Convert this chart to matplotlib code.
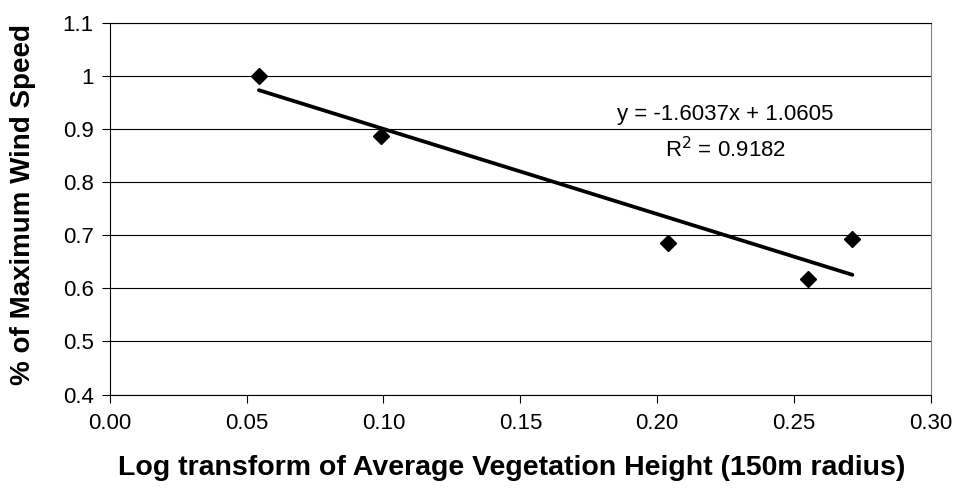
import matplotlib
matplotlib.use("Agg")
import matplotlib.pyplot as plt
import numpy as np

plt.rcParams['font.family'] = ['Liberation Sans', 'DejaVu Sans']

# Log-transformed average vegetation height vs. relative wind speed
veg_height_log = [0.0545, 0.0991, 0.2041, 0.2551, 0.2713]
wind_speed_pct = [1.000, 0.8875, 0.686, 0.618, 0.693]

# Linear trendline reported on the chart
slope = -1.6037
intercept = 1.0605
r_squared = 0.9182

x_ticks = [0.00, 0.05, 0.10, 0.15, 0.20, 0.25, 0.30]
x_tick_labels = ["0.00", "0.05", "0.10", "0.15", "0.20", "0.25", "0.30"]
y_ticks = [0.4, 0.5, 0.6, 0.7, 0.8, 0.9, 1.0, 1.1]
y_tick_labels = ["0.4", "0.5", "0.6", "0.7", "0.8", "0.9", "1", "1.1"]

fig = plt.figure(figsize=(9.58, 4.95), dpi=100)
ax = fig.add_axes([0.1145, 0.203, 0.8573, 0.751])

ax.set_xlim(0.0, 0.30)
ax.set_ylim(0.4, 1.1)

# horizontal gridlines
for yv in y_ticks:
    ax.axhline(yv, color='black', lw=0.8, zorder=1)

# trendline over the data range
xs = np.array([min(veg_height_log), max(veg_height_log)])
ax.plot(xs, slope * xs + intercept, color='black', lw=2.7,
        solid_capstyle='round', zorder=3)

ax.plot(veg_height_log, wind_speed_pct, linestyle='none', marker='D',
        markersize=8.5, color='black', zorder=4)

ax.text(0.2248, 0.9265, f"y = {slope}x + {intercept}",
        ha='center', va='center', fontsize=16)
ax.text(0.2248, 0.861, f"R$^2$ = {r_squared}",
        ha='center', va='center', fontsize=16)

ax.set_xticks(x_ticks)
ax.set_xticklabels(x_tick_labels, fontsize=16)
ax.set_yticks(y_ticks)
ax.set_yticklabels(y_tick_labels, fontsize=16)
ax.tick_params(axis='both', direction='out', length=5.5, width=0.8,
               color='black')
ax.tick_params(axis='x', pad=8)
ax.tick_params(axis='y', pad=6)

for side in ['left', 'bottom', 'top']:
    ax.spines[side].set_color('black')
    ax.spines[side].set_linewidth(0.8)
ax.spines['right'].set_color('#808080')
ax.spines['right'].set_linewidth(0.8)

ax.set_xlabel("Log transform of Average Vegetation Height (150m radius)",
              fontsize=20.5, fontweight='bold', va='center')
ax.xaxis.set_label_coords(0.49, -0.198)
ax.set_ylabel("% of Maximum Wind Speed", fontsize=20, fontweight='bold',
              va='center')
ax.yaxis.set_label_coords(-0.1056, 0.51)

fig.savefig("out.png", dpi=100, facecolor='white')
